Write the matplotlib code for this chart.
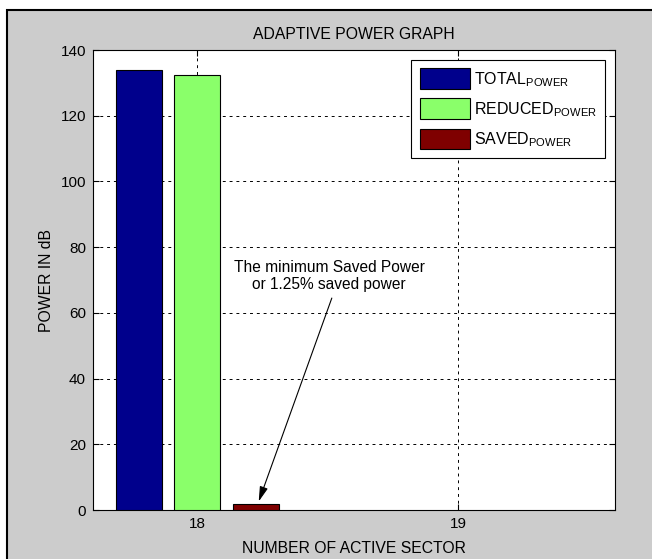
import numpy as np
import matplotlib.pyplot as plt
from matplotlib.patches import Rectangle

plt.rcParams['font.family'] = ['Liberation Sans', 'DejaVu Sans']

# data
sectors = [18]
total_power = [134.0]
reduced_power = [132.3]
saved_power = [1.7]
series_names = ['TOTAL$_{\\mathregular{POWER}}$',
                'REDUCED$_{\\mathregular{POWER}}$',
                'SAVED$_{\\mathregular{POWER}}$']
series_colors = ['#00008c', '#8aff6a', '#7f0000']
yticks = [0, 20, 40, 60, 80, 100, 120, 140]
xticks = [18, 19]

fig = plt.figure(figsize=(6.52, 5.59), dpi=100)
fig.patch.set_facecolor('white')
# grey panel with black frame
panel = Rectangle((7 / 652, -0.01), 1.0, 1 - 10 / 559 + 0.01,
                  transform=fig.transFigure, facecolor='#cccccc',
                  edgecolor='black', linewidth=1.5, zorder=-10)
fig.patches.append(panel)

ax = fig.add_axes([93 / 652, 49 / 559, 522 / 652, 460 / 559])
ax.set_facecolor('white')

x = np.array(sectors, dtype=float)
offset = 0.225
width = 0.177
for i, (vals, col, name) in enumerate(zip([total_power, reduced_power, saved_power],
                                          series_colors, series_names)):
    ax.bar(x + (i - 1) * offset, vals, width=width, color=col,
           edgecolor='black', linewidth=0.8, label=name, zorder=3)

ax.set_xlim(17.6, 19.6)
ax.set_ylim(0, 140)
ax.set_xticks(xticks)
ax.set_yticks(yticks)
ax.tick_params(direction='in', length=4, width=0.8, labelsize=11,
               top=True, right=True, pad=5)
ax.grid(True, color='black', linestyle=(0, (3, 4)), linewidth=0.7, zorder=0)
ax.set_axisbelow(True)
for s in ax.spines.values():
    s.set_linewidth(0.8)

ax.set_title('ADAPTIVE POWER GRAPH', fontsize=11.3, pad=8)
ax.set_xlabel('NUMBER OF ACTIVE SECTOR', fontsize=11.3, labelpad=7)
ax.set_ylabel('POWER IN dB', fontsize=11.3, labelpad=5)

leg = ax.legend(loc='upper right', fontsize=11.5, frameon=True, fancybox=False,
                edgecolor='black', framealpha=1, handlelength=3.1,
                handleheight=1.6, handletextpad=0.25, borderpad=0.55,
                labelspacing=0.6, borderaxespad=0.6)
leg.get_frame().set_linewidth(0.8)

ax.text(18.505, 71.3, 'The minimum Saved Power\nor 1.25% saved power',
        ha='center', va='center', fontsize=11.2, linespacing=1.2, zorder=5)
ax.annotate('', xy=(18.235, 2.6), xytext=(18.515, 64.5),
            arrowprops=dict(arrowstyle='-|>,head_length=0.9,head_width=0.25',
                            color='black', lw=0.8, shrinkA=0, shrinkB=0),
            zorder=5)

fig.savefig('out.png', dpi=100)
